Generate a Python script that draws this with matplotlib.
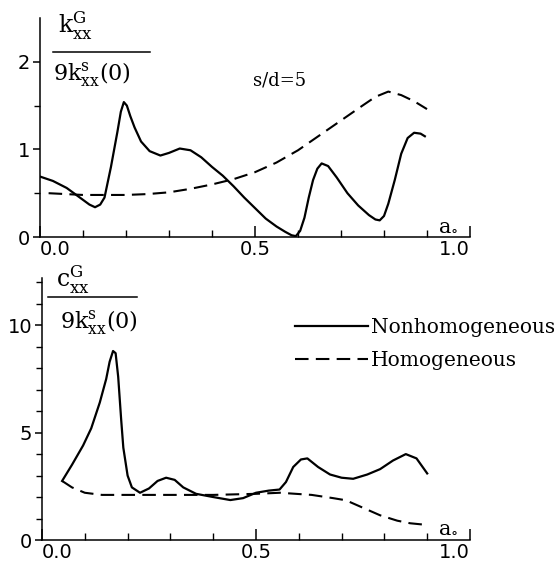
import matplotlib
matplotlib.use('Agg')
import matplotlib.pyplot as plt
from matplotlib.lines import Line2D
from matplotlib.ticker import MultipleLocator, FixedLocator

plt.rcParams['mathtext.fontset'] = 'dejavuserif'

# top panel: k_xx^G / 9k_xx^s(0)
k_non_x = [0.0, 0.03, 0.062, 0.09, 0.115, 0.128, 0.14, 0.15, 0.165, 0.18, 0.188, 0.195,
           0.202, 0.21, 0.22, 0.235, 0.255, 0.28, 0.30, 0.325, 0.35, 0.375, 0.40, 0.425,
           0.45, 0.475, 0.50, 0.525, 0.55, 0.57, 0.585, 0.595, 0.605, 0.615, 0.625,
           0.635, 0.645, 0.655, 0.67, 0.69, 0.715, 0.74, 0.765, 0.78, 0.79, 0.80, 0.81,
           0.825, 0.84, 0.855, 0.87, 0.885, 0.895]
k_non_y = [0.69, 0.64, 0.56, 0.46, 0.37, 0.34, 0.37, 0.45, 0.8, 1.2, 1.43, 1.54,
           1.50, 1.38, 1.25, 1.09, 0.98, 0.93, 0.96, 1.01, 0.99, 0.91, 0.80, 0.70,
           0.58, 0.45, 0.33, 0.21, 0.12, 0.06, 0.02, 0.01, 0.07, 0.22, 0.45,
           0.65, 0.78, 0.84, 0.81, 0.68, 0.50, 0.36, 0.25, 0.20, 0.19, 0.24, 0.38,
           0.65, 0.95, 1.13, 1.19, 1.18, 1.15]
k_hom_x = [0.02, 0.06, 0.1, 0.15, 0.2, 0.25, 0.3, 0.35, 0.4, 0.45, 0.5, 0.55, 0.6,
           0.65, 0.7, 0.75, 0.78, 0.81, 0.84, 0.87, 0.9]
k_hom_y = [0.50, 0.49, 0.48, 0.48, 0.48, 0.49, 0.51, 0.55, 0.60, 0.66, 0.74, 0.85, 0.99,
           1.16, 1.33, 1.50, 1.60, 1.66, 1.62, 1.55, 1.46]

# bottom panel: c_xx^G / 9k_xx^s(0)
c_non_x = [0.047, 0.07, 0.096, 0.115, 0.135, 0.15, 0.158, 0.166, 0.172, 0.178, 0.185,
           0.19, 0.2, 0.21, 0.229, 0.25, 0.27, 0.29, 0.31, 0.33, 0.36, 0.40, 0.44,
           0.47, 0.50, 0.53, 0.555, 0.57, 0.587, 0.605, 0.62, 0.645, 0.673, 0.70,
           0.727, 0.76, 0.79, 0.82, 0.85, 0.875, 0.9]
c_non_y = [2.75, 3.5, 4.4, 5.2, 6.4, 7.5, 8.3, 8.8, 8.7, 7.6, 5.6,
           4.3, 3.0, 2.45, 2.2, 2.4, 2.75, 2.9, 2.8, 2.45, 2.15, 2.0, 1.86,
           1.95, 2.2, 2.3, 2.35, 2.7, 3.4, 3.75, 3.8, 3.4, 3.05, 2.9,
           2.85, 3.05, 3.3, 3.7, 4.0, 3.8, 3.1]
c_hom_x = [0.047, 0.07, 0.1, 0.14, 0.2, 0.3, 0.4, 0.5, 0.556, 0.63, 0.68, 0.71, 0.75,
           0.79, 0.83, 0.86, 0.9]
c_hom_y = [2.75, 2.45, 2.2, 2.1, 2.1, 2.1, 2.1, 2.15, 2.2, 2.1, 1.95, 1.85, 1.5,
           1.15, 0.9, 0.78, 0.7]

W, H = 554, 571
fig = plt.figure(figsize=(W / 100, H / 100), dpi=100)

ax1 = fig.add_axes([40 / W, 1 - 237 / H, 430 / W, (237 - 18) / H])
ax2 = fig.add_axes([42 / W, 1 - 540 / H, 428 / W, (540 - 278) / H])

solid = dict(color='black', lw=1.6, solid_joinstyle='round')
dashed = dict(color='black', lw=1.5, dashes=(6.5, 3.5))

ax1.plot(k_non_x, k_non_y, **solid)
ax1.plot(k_hom_x, k_hom_y, **dashed)
ax2.plot(c_non_x, c_non_y, label='Nonhomogeneous', **solid)
ax2.plot(c_hom_x, c_hom_y, label='Homogeneous', **dashed)

ax1.set_ylim(0, 2.5)
ax2.set_ylim(0, 12.2)
ax1.yaxis.set_major_locator(FixedLocator([0, 1, 2]))
ax1.yaxis.set_minor_locator(FixedLocator([0.5, 1.5]))
ax2.yaxis.set_major_locator(FixedLocator([0, 5, 10]))
ax2.yaxis.set_minor_locator(MultipleLocator(1))

for ax in (ax1, ax2):
    ax.set_xlim(0, 1.0)
    ax.set_xticks([0.0, 0.5, 1.0])
    ax.set_xticklabels(['0.0', '0.5', '1.0'])
    ax.xaxis.set_minor_locator(MultipleLocator(0.1))
    ax.spines['top'].set_visible(False)
    ax.spines['right'].set_visible(False)
    ax.spines['left'].set_linewidth(1.1)
    ax.spines['bottom'].set_linewidth(1.1)
    ax.tick_params(axis='x', which='major', direction='in', length=8, width=1.1,
                   pad=2, labelsize=14)
    ax.tick_params(axis='x', which='minor', direction='in', length=5, width=1.0)
    ax.tick_params(axis='y', which='major', direction='out', length=5, width=1.1,
                   pad=2, labelsize=14)
    ax.tick_params(axis='y', which='minor', direction='out', length=4, width=1.0)
    ax.text(0.925, 0.012, r'$\mathrm{a}_{\circ}$', transform=ax.transAxes,
            fontsize=15, ha='left', va='bottom')

ax1.text(0.495, 1.79, 's/d=5', fontsize=13, family='DejaVu Serif', va='center')

# fraction labels
fig.text(58 / W, 1 - 33 / H, r'$\mathrm{k}^{\mathrm{G}}_{\mathrm{xx}}$', fontsize=17,
         va='baseline', ha='left')
fig.add_artist(Line2D([53 / W, 150 / W], [1 - 52 / H] * 2, color='black', lw=1.1))
fig.text(53 / W, 1 - 80 / H, r'$\mathrm{9k}^{\mathrm{s}}_{\mathrm{xx}}\mathrm{(0)}$',
         fontsize=16, va='baseline', ha='left')

fig.text(56 / W, 1 - 287 / H, r'$\mathrm{c}^{\mathrm{G}}_{\mathrm{xx}}$', fontsize=17,
         va='baseline', ha='left')
fig.add_artist(Line2D([48 / W, 137 / W], [1 - 297 / H] * 2, color='black', lw=1.1))
fig.text(60 / W, 1 - 328 / H, r'$\mathrm{9k}^{\mathrm{s}}_{\mathrm{xx}}\mathrm{(0)}$',
         fontsize=16, va='baseline', ha='left')

ax2.legend(loc='upper left', bbox_to_anchor=(295 / W, 1 - 318 / H),
           bbox_transform=fig.transFigure, frameon=False,
           prop={'family': 'DejaVu Serif', 'size': 14.5}, handlelength=3.6,
           handletextpad=0.15, labelspacing=0.7, borderpad=0, borderaxespad=0)

fig.canvas.draw()
for ax in (ax1, ax2):
    ticks = ax.xaxis.get_major_ticks()
    ticks[0].label1.set_horizontalalignment('left')
    ticks[-1].label1.set_horizontalalignment('right')

fig.savefig('out.png', dpi=100)
